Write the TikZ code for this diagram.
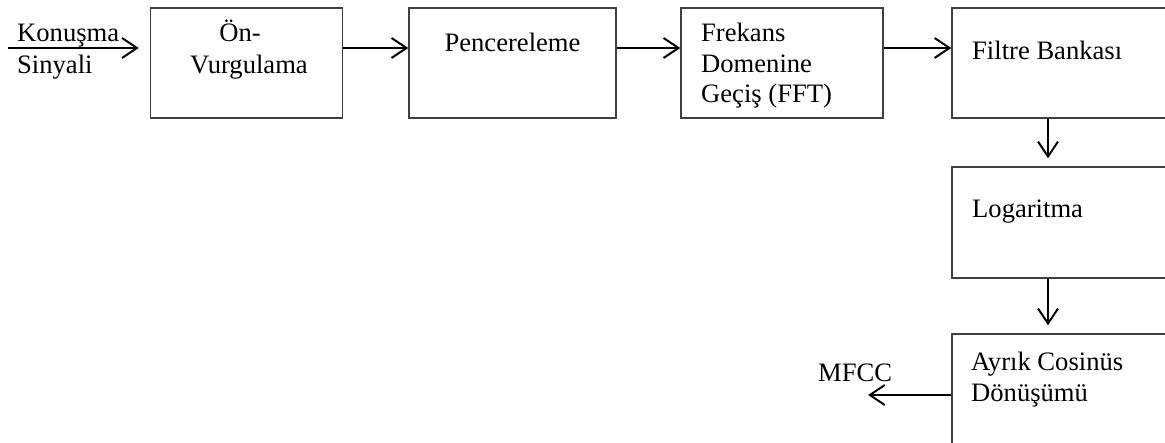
\documentclass[tikz,border=0pt]{standalone}
\usepackage{fontspec}
\setmainfont{Liberation Serif}
\usetikzlibrary{arrows.meta}
\begin{document}
\begin{tikzpicture}[x=1pt,y=-1pt,
  stage/.style={draw=black!75,line width=1.3pt,rectangle,inner sep=0pt},
  lbl/.style={anchor=base west,inner sep=0pt,font=\fontsize{26.6}{31}\selectfont},
  clbl/.style={anchor=base,inner sep=0pt,font=\fontsize{26.6}{31}\selectfont},
  flow/.style={line width=2pt,-{Straight Barb[length=15pt,width=20pt,line width=2pt]}}]
\fill[white] (0,0) rectangle (1165,443);
\begin{scope}
\clip (0,0) rectangle (1165,443);
% processing stages
\node[stage,minimum width=192pt,minimum height=110pt] (b1) at (246.5,63) {};
\node[stage,minimum width=207pt,minimum height=110pt] (b2) at (512.5,63) {};
\node[stage,minimum width=202pt,minimum height=110pt] (b3) at (782,63) {};
\node[stage,minimum width=260pt,minimum height=110pt] (b4) at (1082,63) {};
\node[stage,minimum width=260pt,minimum height=111pt] (b5) at (1082,222.5) {};
\node[stage,minimum width=260pt,minimum height=130pt] (b6) at (1082,399) {};
% stage labels
\node[clbl] (t1a) at (240,42) {Ön-};
\node[clbl] (t1b) at (249,74) {Vurgulama};
\node[clbl] (t2) at (512.5,52) {Pencereleme};
\node[lbl] (t3a) at (701,42) {Frekans};
\node[lbl] (t3b) at (701,73) {Domenine};
\node[lbl] (t3c) at (701,103) {Geçiş (FFT)};
\node[lbl] (t4) at (972,60) {Filtre Bankası};
\node[lbl] (t5) at (972,218) {Logaritma};
\node[lbl] (t6a) at (971,371) {Ayrık Cosinüs};
\node[lbl] (t6b) at (971,402) {Dönüşümü};
% input and output labels
\node[lbl] (inA) at (17,42) {Konuşma};
\node[lbl] (inB) at (17,74) {Sinyali};
\node[lbl] (out) at (818,382) {MFCC};
% connectors
\coordinate (src) at (8,48);
\coordinate (dst) at (868,395);
\draw[flow,shorten >=11pt] (src) -- (src -| b1.west);
\draw[flow] (b1.east |- src) -- (b2.west |- src);
\draw[flow] (b2.east |- src) -- (b3.west |- src);
\draw[flow] (b3.east |- src) -- (b4.west |- src);
\draw[flow,shorten >=8pt] ([xshift=-34pt]b4.south) -- ([xshift=-34pt]b5.north);
\draw[flow,shorten >=8pt] ([xshift=-34pt]b5.south) -- ([xshift=-34pt]b6.north);
\draw[flow] (b6.west |- dst) -- (dst);
\end{scope}
\pgfresetboundingbox
\useasboundingbox (0,0) rectangle (1165,443);
\end{tikzpicture}
\end{document}
